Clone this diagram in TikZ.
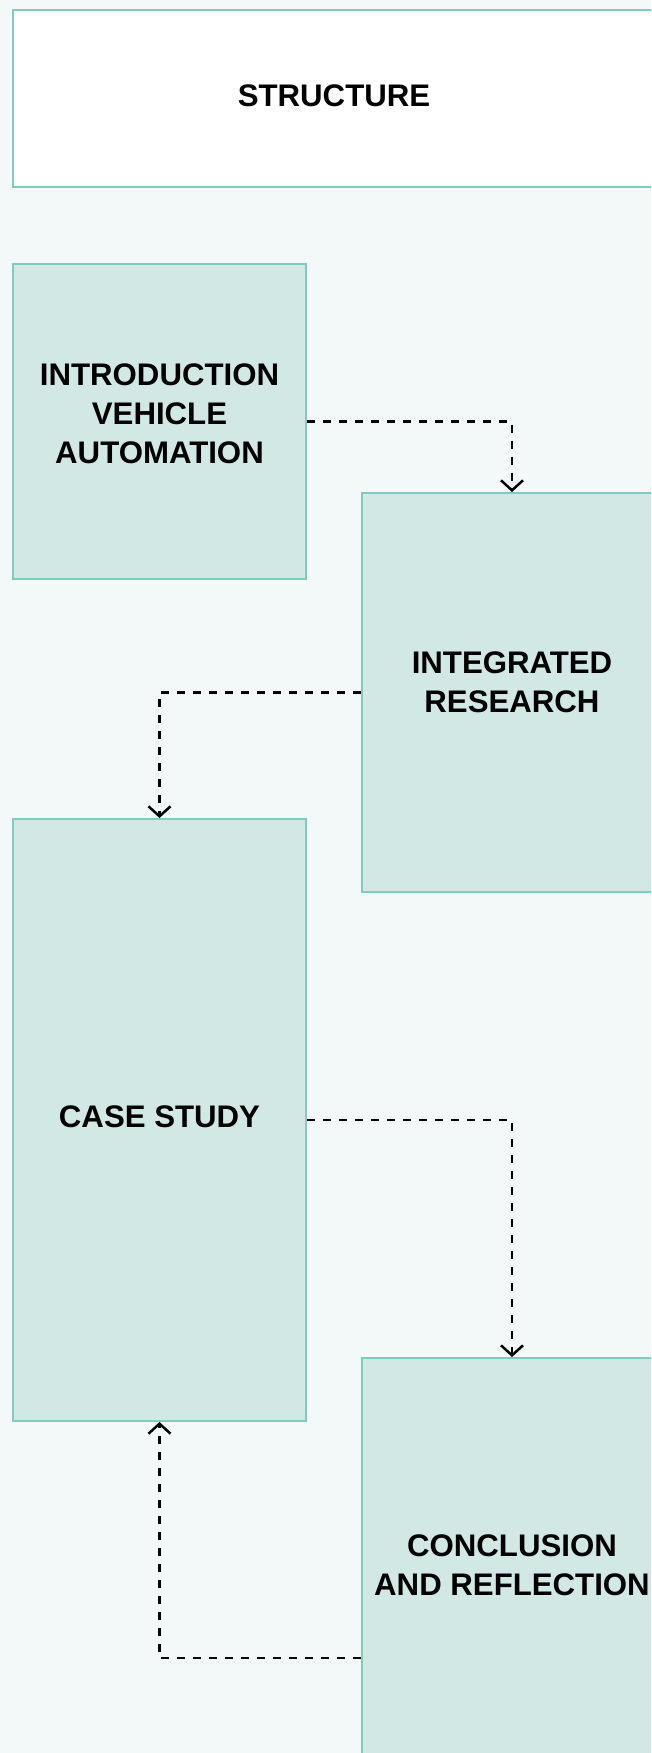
\documentclass[tikz,border=0pt]{standalone}
\usepackage{fontspec}
\setmainfont{Liberation Sans}
\usetikzlibrary{arrows.meta}

\definecolor{pagebg}{HTML}{F3F8F8}
\definecolor{partfill}{HTML}{D1E8E5}
\definecolor{partline}{HTML}{7FCBC0}

\tikzset{
    part/.style={draw=partline, fill=partfill, line width=2pt, anchor=north west,
        align=center, inner sep=0pt, font=\fontsize{31.2}{39}\selectfont\bfseries},
    lift/.style={text depth=#1},
    link/.style={draw=black, line width=2.5pt, dash pattern=on 8pt off 8pt,
        -{Straight Barb[length=10pt,width=22pt]}},
}

\begin{document}
\begin{tikzpicture}[x=1pt,y=-1pt]
    \clip (0,0) rectangle (651,1753);
    \fill[pagebg] (0,0) rectangle (651,1753);

    \node[part, lift=6pt, fill=white, minimum width=642pt, minimum height=177pt] (title) at (12,9) {STRUCTURE};
    \node[part, lift=16pt, minimum width=293pt, minimum height=315pt] (intro) at (12,263) {INTRODUCTION\\VEHICLE\\AUTOMATION};
    \node[part, lift=20pt, minimum width=300pt, minimum height=399pt] (research) at (361,492) {INTEGRATED\\RESEARCH};
    \node[part, lift=6pt, minimum width=293pt, minimum height=602pt] (casestudy) at (12,818) {CASE STUDY};
    \node[part, minimum width=300pt, minimum height=414pt] (conclusion) at (361,1357) {CONCLUSION\\AND REFLECTION};

    \draw[link] (intro.east) -| (research.north);
    \draw[link] (research.west) -| (casestudy.north);
    \draw[link] (casestudy.east) -| (conclusion.north);
    \draw[link] ([yshift=-93pt]conclusion.west) -| (casestudy.south);
\end{tikzpicture}
\end{document}
